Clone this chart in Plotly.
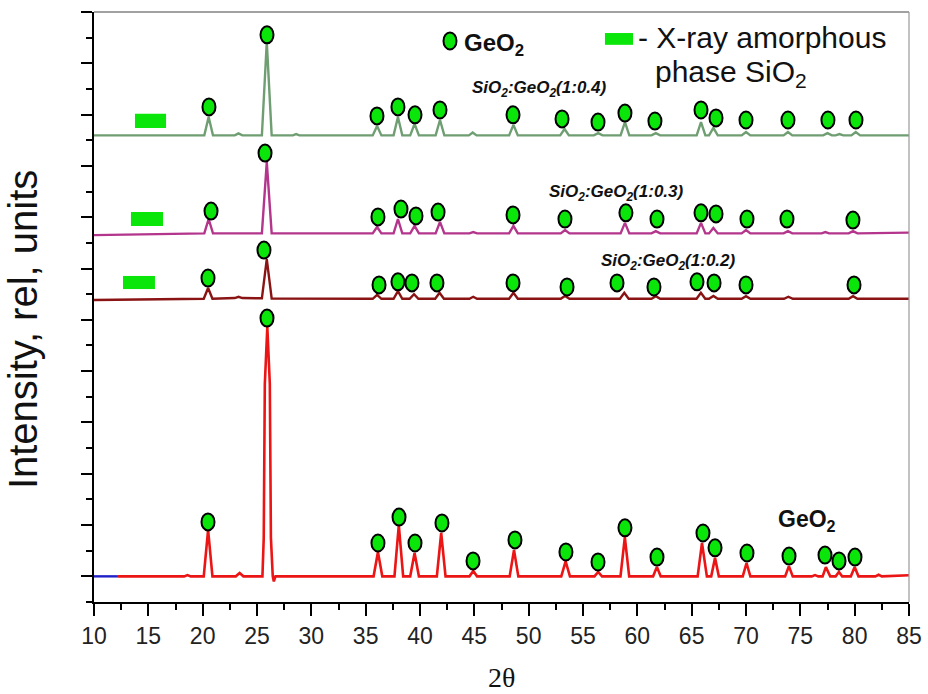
import plotly.graph_objects as go

# ---------------- data ----------------
# GeO2 reference pattern (red)
geo2_x = [12.2, 18.3, 18.6, 18.9, 20.1, 20.5, 20.9, 23.05, 23.4, 23.75,
          25.5, 25.62, 25.72, 25.95, 26.18, 26.28, 26.45, 26.55, 26.7,
          35.73, 36.13, 36.53, 37.65, 38.05, 38.45, 39.1, 39.5, 39.9, 41.55, 41.95, 42.35,
          44.55, 44.9, 45.25, 48.25, 48.65, 49.05, 53.0, 53.4, 53.8, 56.05, 56.4, 56.75,
          58.45, 58.85, 59.25, 61.45, 61.8, 62.15, 65.55, 65.95, 66.4, 66.8, 67.15, 67.5,
          69.7, 70.05, 70.4, 73.6, 73.95, 74.3, 76.05, 76.35, 76.65, 77.05, 77.35, 77.75,
          78.25, 78.55, 78.85, 79.65, 80.0, 80.35, 81.9, 82.2, 82.5, 85.0]
geo2_y = [1.0, 1.0, 1.05, 1.0, 1.0, 2.81, 1.0, 1.0, 1.13, 1.0,
          1.0, 2.5, 8.5, 10.72, 8.5, 2.5, 1.0, 0.8, 1.0,
          1.0, 1.95, 1.0, 1.0, 3.0, 1.0, 1.0, 1.91, 1.0, 1.0, 2.69, 1.0,
          1.0, 1.21, 1.0, 1.0, 2.03, 1.0, 1.0, 1.58, 1.0, 1.0, 1.17, 1.0,
          1.0, 2.53, 1.0, 1.0, 1.37, 1.0, 1.0, 2.3, 1.0, 1.0, 1.72, 1.0,
          1.0, 1.52, 1.0, 1.0, 1.4, 1.0, 1.0, 1.05, 1.0, 1.0, 1.36, 1.0,
          1.0, 1.17, 1.0, 1.0, 1.36, 1.0, 1.0, 1.06, 1.0, 1.04]
geo2_start_x = [10.0, 12.2]
geo2_start_y = [1.0, 1.0]

# SiO2:GeO2 (1:0.4)  (sage green)
s04_x = [10.0, 20.15, 20.55, 20.95, 22.95, 23.3, 23.65, 25.45, 25.9, 26.35, 28.3, 28.6, 28.9,
         35.65, 36.05, 36.45, 37.57, 37.97, 38.37, 39.1, 39.5, 39.9, 41.44, 41.84, 42.24, 44.5, 44.85, 45.2,
         48.2, 48.6, 49.0, 52.9, 53.3, 53.7, 56.0, 56.4, 56.8, 58.46, 58.86, 59.26, 61.3, 61.7, 62.1,
         65.46, 65.86, 66.26, 66.6, 67.0, 67.4, 69.6, 70.0, 70.4, 73.46, 73.86, 74.26,
         77.1, 77.5, 77.9, 78.25, 78.6, 78.95, 79.7, 80.1, 80.5, 85.0]
s04_y = [18.19, 18.19, 18.91, 18.19, 18.19, 18.27, 18.19, 18.19, 21.83, 18.19, 18.19, 18.24, 18.19,
         18.19, 18.56, 18.19, 18.19, 18.91, 18.19, 18.19, 18.64, 18.19, 18.19, 18.79, 18.19, 18.19, 18.3, 18.19,
         18.19, 18.6, 18.19, 18.19, 18.44, 18.19, 18.19, 18.28, 18.19, 18.19, 18.71, 18.19, 18.19, 18.28, 18.19,
         18.19, 18.71, 18.19, 18.19, 18.48, 18.19, 18.19, 18.32, 18.19, 18.19, 18.32, 18.19,
         18.19, 18.28, 18.19, 18.19, 18.24, 18.19, 18.19, 18.32, 18.19, 18.19]

# SiO2:GeO2 (1:0.3)  (magenta)
s03_x = [10.0, 20.15, 20.55, 20.95, 25.45, 25.9, 26.35,
         35.65, 36.05, 36.45, 37.57, 37.97, 38.37, 39.1, 39.5, 39.9, 41.44, 41.84, 42.24, 44.55, 44.9, 45.25,
         48.2, 48.6, 49.0, 52.95, 53.35, 53.75, 58.46, 58.86, 59.26, 61.3, 61.7, 62.1,
         65.46, 65.86, 66.26, 66.6, 67.0, 67.4, 69.6, 70.0, 70.4, 73.46, 73.86, 74.26,
         76.95, 77.3, 77.65, 79.45, 79.85, 80.25, 85.0]
s03_y = [14.3, 14.37, 14.93, 14.37, 14.37, 17.15, 14.37,
         14.37, 14.62, 14.37, 14.37, 14.93, 14.37, 14.37, 14.66, 14.37, 14.37, 14.82, 14.37, 14.37, 14.42, 14.37,
         14.37, 14.66, 14.37, 14.37, 14.5, 14.37, 14.37, 14.78, 14.37, 14.37, 14.46, 14.37,
         14.37, 14.78, 14.37, 14.37, 14.58, 14.37, 14.37, 14.5, 14.37, 14.37, 14.46, 14.37,
         14.37, 14.42, 14.37, 14.37, 14.46, 14.37, 14.4]

# SiO2:GeO2 (1:0.2)  (dark red)
s02_x = [10.0, 20.1, 20.5, 20.9, 22.95, 23.3, 23.65, 25.45, 25.9, 26.35,
         35.65, 36.05, 36.45, 37.57, 37.97, 38.37, 39.05, 39.45, 39.85, 41.4, 41.8, 42.2, 44.55, 44.9, 45.25,
         48.2, 48.6, 49.0, 52.95, 53.35, 53.75, 58.4, 58.8, 59.2, 61.3, 61.7, 62.1,
         65.45, 65.85, 66.25, 66.6, 67.0, 67.4, 69.6, 70.0, 70.4, 73.5, 73.9, 74.3, 79.45, 79.85, 80.25, 85.0]
s02_y = [11.77, 11.82, 12.24, 11.82, 11.85, 11.9, 11.85, 11.84, 13.37, 11.83,
         11.82, 11.97, 11.82, 11.82, 12.12, 11.82, 11.82, 12.0, 11.82, 11.82, 12.05, 11.82, 11.82, 11.9, 11.82,
         11.82, 12.05, 11.82, 11.82, 11.93, 11.82, 11.82, 12.05, 11.82, 11.82, 11.92, 11.82,
         11.82, 12.05, 11.82, 11.82, 11.93, 11.82, 11.82, 11.92, 11.82, 11.82, 11.9, 11.82, 11.82, 11.92, 11.82, 11.82]

# GeO2 reflection markers (green ovals)
geo2_mark_x = [20.49, 25.92, 36.13, 38.07, 39.54, 42.02, 44.88, 48.74, 53.43, 56.38,
               58.86, 61.81, 66.04, 67.15, 70.09, 73.96, 77.27, 78.56, 80.03]
geo2_mark_y = [3.12, 11.07, 2.30, 3.31, 2.30, 3.08, 1.60, 2.42, 1.95, 1.56,
               2.89, 1.75, 2.69, 2.11, 1.91, 1.79, 1.83, 1.60, 1.75]
s04_mark_x = [20.58, 25.92, 36.04, 37.97, 39.54, 41.84, 48.56, 53.07, 56.38, 58.86,
              61.62, 65.86, 67.24, 70.0, 73.86, 77.54, 80.12]
s04_mark_y = [19.30, 22.11, 18.95, 19.30, 18.99, 19.18, 18.99, 18.83, 18.71, 19.06,
              18.75, 19.18, 18.87, 18.79, 18.79, 18.79, 18.79]
s03_mark_x = [20.77, 25.74, 36.13, 38.25, 39.63, 41.66, 48.56, 53.34, 58.95, 61.81,
              65.86, 67.24, 70.09, 73.77, 79.84]
s03_mark_y = [15.24, 17.50, 15.01, 15.32, 15.05, 15.20, 15.09, 14.93, 15.17, 14.93,
              15.17, 15.13, 14.93, 14.93, 14.89]
s02_mark_x = [20.49, 25.64, 36.23, 37.97, 39.26, 41.56, 48.56, 53.53, 58.13, 61.53,
              65.49, 67.06, 70.0, 79.94]
s02_mark_y = [12.63, 13.72, 12.36, 12.48, 12.44, 12.44, 12.44, 12.28, 12.44, 12.28,
              12.48, 12.44, 12.36, 12.36]
legend_mark_x = [42.76]
legend_mark_y = [21.87]

# X-ray amorphous SiO2 bars (green rectangles): x0, x1, y0, y1
amorph_x0 = [13.77, 13.40, 12.67, 57.02]
amorph_x1 = [16.63, 16.35, 15.61, 59.60]
amorph_y0 = [18.48, 14.66, 12.20, 21.72]
amorph_y1 = [19.03, 15.20, 12.71, 22.18]

x_tick_vals = [10, 15, 20, 25, 30, 35, 40, 45, 50, 55, 60, 65, 70, 75, 80, 85]
x_tick_text = [str(v) for v in x_tick_vals]

# ---------------- figure ----------------
GREEN = "#0ae60a"
FONT = "Arial, Liberation Sans, sans-serif"

fig = go.Figure()
fig.add_trace(go.Scatter(x=s04_x, y=s04_y, mode="lines",
                         line=dict(color="#6f9e72", width=2.4), hoverinfo="skip"))
fig.add_trace(go.Scatter(x=s03_x, y=s03_y, mode="lines",
                         line=dict(color="#b3368c", width=2.4), hoverinfo="skip"))
fig.add_trace(go.Scatter(x=s02_x, y=s02_y, mode="lines",
                         line=dict(color="#8a1313", width=2.4), hoverinfo="skip"))
fig.add_trace(go.Scatter(x=geo2_x, y=geo2_y, mode="lines",
                         line=dict(color="#ec1515", width=2.6), hoverinfo="skip"))
fig.add_trace(go.Scatter(x=geo2_start_x, y=geo2_start_y, mode="lines",
                         line=dict(color="#2020c8", width=2.4), hoverinfo="skip"))

shapes = []
for x0, x1, y0, y1 in zip(amorph_x0, amorph_x1, amorph_y0, amorph_y1):
    shapes.append(dict(type="rect", xref="x", yref="y", x0=x0, x1=x1, y0=y0, y1=y1,
                       fillcolor=GREEN, line=dict(width=0), layer="above"))

all_mx = geo2_mark_x + s04_mark_x + s03_mark_x + s02_mark_x + legend_mark_x
all_my = geo2_mark_y + s04_mark_y + s03_mark_y + s02_mark_y + legend_mark_y
for mx, my in zip(all_mx, all_my):
    shapes.append(dict(type="circle", xref="x", yref="y",
                       xsizemode="pixel", ysizemode="pixel",
                       xanchor=mx, yanchor=my, x0=-6.5, x1=6.5, y0=-8.5, y1=8.5,
                       fillcolor=GREEN, line=dict(color="black", width=2), layer="above"))

# top and right frame lines
shapes.append(dict(type="line", xref="paper", yref="paper", x0=0, x1=1, y0=1, y1=1,
                   line=dict(color="#444", width=1.2)))
shapes.append(dict(type="line", xref="paper", yref="paper", x0=1, x1=1, y0=0, y1=1,
                   line=dict(color="#999", width=1.2)))

annotations = [
    dict(text="<b>GeO<sub>2</sub></b>", x=43.9, y=21.72, xref="x", yref="y",
         xanchor="left", yanchor="middle", showarrow=False,
         font=dict(family=FONT, size=24, color="#111")),
    dict(text="- X-ray amorphous", x=59.9, y=21.99, xref="x", yref="y",
         xanchor="left", yanchor="middle", showarrow=False,
         font=dict(family=FONT, size=30, color="#111")),
    dict(text="phase SiO<sub>2</sub>", x=61.4, y=20.6, xref="x", yref="y",
         xanchor="left", yanchor="middle", showarrow=False,
         font=dict(family=FONT, size=30, color="#111")),
    dict(text="<b><i>SiO<sub>2</sub>:GeO<sub>2</sub>(1:0.4)</i></b>", x=51.04, y=20.0,
         xref="x", yref="y", xanchor="center", yanchor="middle", showarrow=False,
         font=dict(family=FONT, size=17, color="#111")),
    dict(text="<b><i>SiO<sub>2</sub>:GeO<sub>2</sub>(1:0.3)</i></b>", x=58.08, y=15.94,
         xref="x", yref="y", xanchor="center", yanchor="middle", showarrow=False,
         font=dict(family=FONT, size=17, color="#111")),
    dict(text="<b><i>SiO<sub>2</sub>:GeO<sub>2</sub>(1:0.2)</i></b>", x=62.87, y=13.25,
         xref="x", yref="y", xanchor="center", yanchor="middle", showarrow=False,
         font=dict(family=FONT, size=17, color="#111")),
    dict(text="<b>GeO<sub>2</sub></b>", x=72.8, y=3.18, xref="x", yref="y",
         xanchor="left", yanchor="middle", showarrow=False,
         font=dict(family=FONT, size=23, color="#111")),
    dict(text="2θ", x=0.5, y=-0.128, xref="paper", yref="paper",
         xanchor="center", yanchor="middle", showarrow=False,
         font=dict(family="Times New Roman, Liberation Serif, serif", size=28, color="#111")),
    dict(text="Intensity, rel, units", x=-0.087, y=0.461, xref="paper", yref="paper",
         xanchor="center", yanchor="middle", textangle=-90, showarrow=False,
         font=dict(family=FONT, size=40, color="#111")),
]

fig.update_layout(
    width=928, height=694,
    margin=dict(l=94, r=19, t=12, b=92, autoexpand=False),
    paper_bgcolor="white", plot_bgcolor="white",
    showlegend=False,
    shapes=shapes,
    annotations=annotations,
    xaxis=dict(range=[10, 85], tickmode="array", tickvals=x_tick_vals, ticktext=x_tick_text,
               automargin=False,
               ticks="outside", ticklen=12, tickwidth=2, tickcolor="black",
               showline=True, linecolor="black", linewidth=2, showgrid=False, zeroline=False,
               tickfont=dict(family=FONT, size=23, color="#222"),
               minor=dict(dtick=2.5, tick0=10, ticks="outside", ticklen=6, tickwidth=2,
                          tickcolor="black", showgrid=False)),
    yaxis=dict(range=[0, 23], tick0=1, dtick=2, showticklabels=False, automargin=False,
               ticks="outside", ticklen=11, tickwidth=2, tickcolor="black",
               showline=True, linecolor="black", linewidth=2, showgrid=False, zeroline=False,
               minor=dict(dtick=1, tick0=0, ticks="outside", ticklen=6, tickwidth=2,
                          tickcolor="black", showgrid=False)),
)

fig.write_html("out.html", config={"displayModeBar": False},
               post_script="document.body.style.margin='0px';document.body.style.overflow='hidden';")
